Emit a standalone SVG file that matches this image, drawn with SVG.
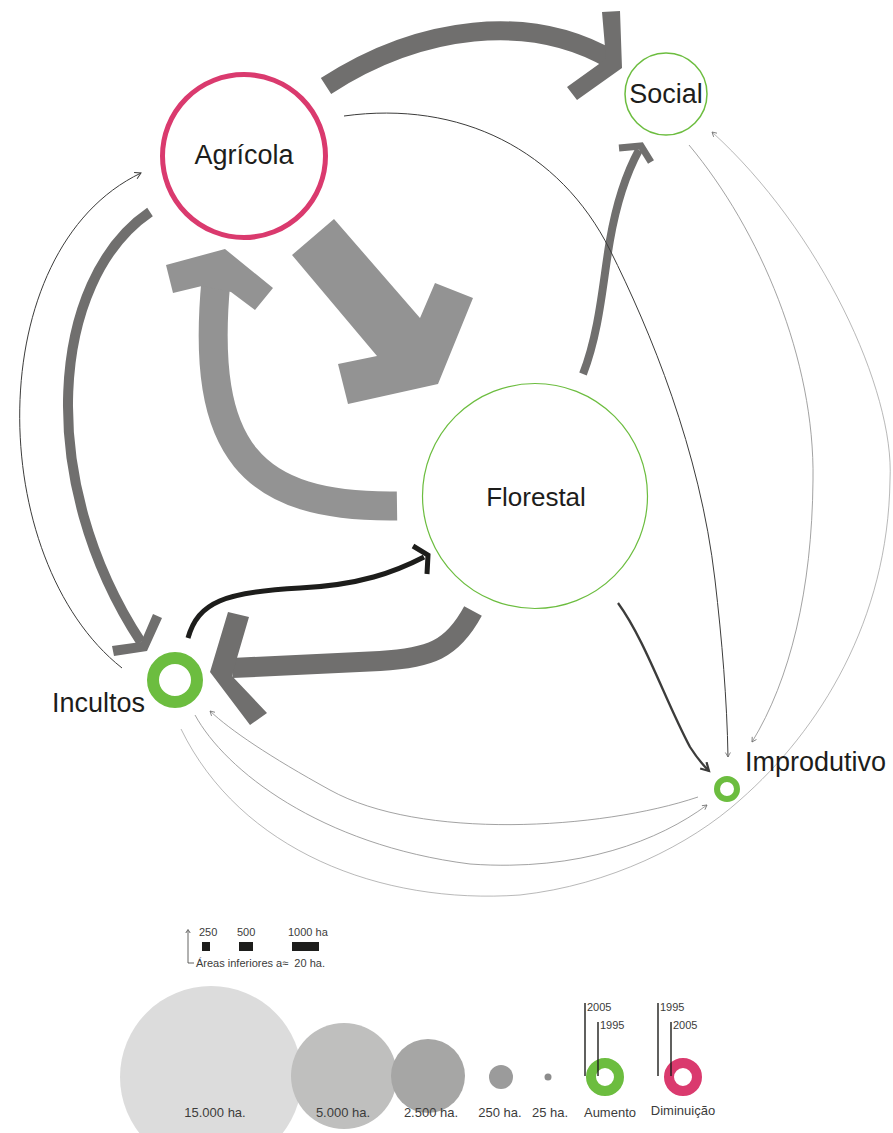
<svg xmlns="http://www.w3.org/2000/svg" width="893" height="1133" viewBox="0 0 893 1133">
  <style>
    .lbl { font-family: "Liberation Sans", Arial, sans-serif; fill: #1d1d1b; }
    .node-lbl { font-size: 27px; }
    .leg { font-family: "Liberation Sans", Arial, sans-serif; fill: #3c3c3b; }
    .dark { fill: #706f6e; }
    .light { fill: #939393; }
    .thin-dark { fill: none; stroke: #3c3c3b; stroke-width: 1; }
    .thin-grey { fill: none; stroke: #8a8a8a; stroke-width: 0.8; }
  </style>
  <defs>
    <marker id="tip-dark" markerWidth="10" markerHeight="10" refX="7" refY="4" orient="auto" markerUnits="userSpaceOnUse">
      <path d="M1,0.5 L7,4 L1,7.5" fill="none" stroke="#3c3c3b" stroke-width="1"/>
    </marker>
    <marker id="tip-small" markerWidth="8" markerHeight="8" refX="5" refY="3" orient="auto" markerUnits="userSpaceOnUse">
      <path d="M0.5,0.5 L5,3 L0.5,5.5" fill="none" stroke="#6f6f6f" stroke-width="0.8"/>
    </marker>
    <marker id="tip-flow" markerWidth="14" markerHeight="14" refX="9" refY="5" orient="auto" markerUnits="userSpaceOnUse">
      <path d="M1,0.5 L9,5 L1,9.5" fill="none" stroke="#3c3c3b" stroke-width="2.2"/>
    </marker>
  </defs>

  <rect width="893" height="1133" fill="#ffffff"/>

  <!-- flows between land uses -->
  <g id="connectors">
    <!-- Agrícola -> Social -->
    <path d="M 326 86 C 420 25, 530 12, 612 60" fill="none" stroke="#706f6e" stroke-width="19"/>
    <polygon class="dark" points="602,12 620,11 622,68 577,100 567,87 606,59"/>

    <!-- Agrícola -> Florestal -->
    <polygon class="light" points="292,255 334,219 420,318 435,283 473,298 438,384 348,404 338,364 377,356"/>

    <!-- Florestal -> Agrícola -->
    <path d="M 397 506 C 250 508, 200 450, 216 280" fill="none" stroke="#939393" stroke-width="29"/>
    <polygon class="light" points="166,265 225,249 273,288 255,310 231,292 202,286 173,293"/>

    <!-- Agrícola -> Incultos -->
    <path d="M 150 212 C 50 280, 35 480, 141 642" fill="none" stroke="#706f6e" stroke-width="10"/>
    <polygon class="dark" points="112,646 141,642 153,614 162,618 147,651 114,656"/>

    <!-- Incultos -> Agrícola -->
    <path d="M 122 668 C -15 560, -20 250, 141 173" class="thin-dark" marker-end="url(#tip-dark)"/>

    <!-- Florestal -> Social -->
    <path d="M 583 374 C 600 330, 603 280, 610 240 C 617 200, 627 172, 639 150" fill="none" stroke="#706f6e" stroke-width="8"/>
    <polyline points="619,148 641,146 651,162" fill="none" stroke="#706f6e" stroke-width="7" stroke-linejoin="miter"/>

    <!-- Florestal -> Incultos -->
    <path d="M 473 611 C 452 650, 430 658, 380 661 L 232 668" fill="none" stroke="#706f6e" stroke-width="20"/>
    <polygon class="dark" points="228,612 249,617 237,658 232,676 267,713 250,725 210,672"/>

    <!-- Incultos -> Florestal -->
    <path d="M 188 638 C 198 602, 225 592, 300 588 C 360 585, 395 572, 424 557" fill="none" stroke="#1d1d1b" stroke-width="5"/>
    <polyline points="413,546 428,555 427,574" fill="none" stroke="#1d1d1b" stroke-width="5" stroke-linejoin="miter"/>

    <!-- Florestal -> Improdutivo -->
    <path d="M 618 603 C 645 640, 665 700, 690 747 C 697 758, 703 765, 709 771" fill="none" stroke="#3c3c3b" stroke-width="2.3" marker-end="url(#tip-flow)"/>

    <!-- Agrícola -> Improdutivo -->
    <path d="M 344 116 C 460 100, 560 150, 610 250 C 650 330, 700 450, 715 580 C 722 640, 727 700, 728 757" class="thin-dark" marker-end="url(#tip-small)"/>

    <!-- Social -> Improdutivo -->
    <path d="M 689 145 C 760 230, 815 360, 813 480 C 812 590, 790 680, 752 742" class="thin-grey" marker-end="url(#tip-small)"/>

    <!-- Incultos -> Social -->
    <path d="M 181 729 C 240 850, 380 905, 520 895 C 610 885, 690 845, 740 800 C 820 730, 888 620, 890 480 C 895 390, 820 230, 712 132" fill="none" stroke="#9a9a9a" stroke-width="0.7" marker-end="url(#tip-small)"/>

    <!-- Improdutivo -> Incultos -->
    <path d="M 698 797 C 600 830, 420 840, 330 790 C 270 757, 230 730, 210 711" class="thin-grey" marker-end="url(#tip-small)"/>

    <!-- Incultos -> Improdutivo -->
    <path d="M 195 715 C 225 770, 320 845, 470 864 C 580 872, 660 840, 707 805" class="thin-grey" marker-end="url(#tip-small)"/>
  </g>

  <!-- land use nodes -->
  <g id="node-agricola">
    <circle cx="244" cy="156" r="81.5" fill="none" stroke="#da3a6e" stroke-width="5"/>
    <text class="lbl node-lbl" x="244" y="164" text-anchor="middle">Agrícola</text>
  </g>
  <g id="node-social">
    <circle cx="666" cy="94" r="41" fill="none" stroke="#6cbd3f" stroke-width="1.5"/>
    <text class="lbl node-lbl" x="666" y="103" text-anchor="middle">Social</text>
  </g>
  <g id="node-florestal">
    <circle cx="535" cy="496" r="112.5" fill="none" stroke="#6cbd3f" stroke-width="1.2"/>
    <text class="lbl" x="536" y="506" text-anchor="middle" font-size="26">Florestal</text>
  </g>
  <g id="node-incultos">
    <circle cx="175" cy="680" r="22" fill="none" stroke="#6cbd3f" stroke-width="12"/>
    <text class="lbl node-lbl" x="52" y="712">Incultos</text>
  </g>
  <g id="node-improdutivo">
    <circle cx="727" cy="789" r="10" fill="none" stroke="#6cbd3f" stroke-width="6"/>
    <text class="lbl node-lbl" x="745" y="771">Improdutivo</text>
  </g>

  <!-- legend: flow widths -->
  <g id="legend-flows">
    <path d="M 188 931 L 188 963 L 194 963" fill="none" stroke="#3c3c3b" stroke-width="0.8"/>
    <path d="M 185.8 933 L 188 929.5 L 190.2 933" fill="none" stroke="#3c3c3b" stroke-width="0.8"/>
    <text class="leg" x="199" y="936" font-size="11">250</text>
    <text class="leg" x="237" y="936" font-size="11">500</text>
    <text class="leg" x="288" y="936" font-size="11">1000 ha</text>
    <rect x="202" y="942" width="8" height="9" fill="#1d1d1b"/>
    <rect x="239" y="942" width="14" height="9" fill="#1d1d1b"/>
    <rect x="292" y="942" width="27" height="9" fill="#1d1d1b"/>
    <text class="leg" x="196" y="967" font-size="11" xml:space="preserve">Áreas inferiores a≈  20 ha.</text>
  </g>

  <!-- legend: area scale -->
  <g id="legend-areas">
    <circle cx="211" cy="1077" r="91" fill="#dcdcdc"/>
    <circle cx="344" cy="1076" r="53" fill="#bfbfbe"/>
    <circle cx="428" cy="1076" r="37" fill="#a6a6a5"/>
    <circle cx="501" cy="1077" r="12" fill="#9b9b9b"/>
    <circle cx="548" cy="1077" r="3.5" fill="#8c8c8c"/>
    <text class="leg" x="215" y="1117" font-size="13" text-anchor="middle">15.000 ha.</text>
    <text class="leg" x="343" y="1117" font-size="13" text-anchor="middle">5.000 ha.</text>
    <text class="leg" x="431" y="1117" font-size="13" text-anchor="middle">2.500 ha.</text>
    <text class="leg" x="500" y="1117" font-size="13" text-anchor="middle">250 ha.</text>
    <text class="leg" x="550" y="1117" font-size="13" text-anchor="middle">25 ha.</text>
  </g>

  <!-- legend: change between 1995 and 2005 -->
  <g id="legend-change">
    <circle cx="605" cy="1077" r="14" fill="none" stroke="#6cbd3f" stroke-width="10"/>
    <circle cx="683" cy="1077" r="14" fill="none" stroke="#da3a6e" stroke-width="10"/>
    <g stroke="#1d1d1b" stroke-width="1.4">
      <line x1="585" y1="1003" x2="585" y2="1076"/>
      <line x1="598" y1="1022" x2="598" y2="1076"/>
      <line x1="658" y1="1003" x2="658" y2="1076"/>
      <line x1="671" y1="1022" x2="671" y2="1076"/>
    </g>
    <text class="leg" x="587" y="1011" font-size="11">2005</text>
    <text class="leg" x="600" y="1029" font-size="11">1995</text>
    <text class="leg" x="660" y="1011" font-size="11">1995</text>
    <text class="leg" x="673" y="1029" font-size="11">2005</text>
    <text class="leg" x="610" y="1117" font-size="13" text-anchor="middle">Aumento</text>
    <text class="leg" x="683" y="1115" font-size="13" text-anchor="middle">Diminuição</text>
  </g>
</svg>
